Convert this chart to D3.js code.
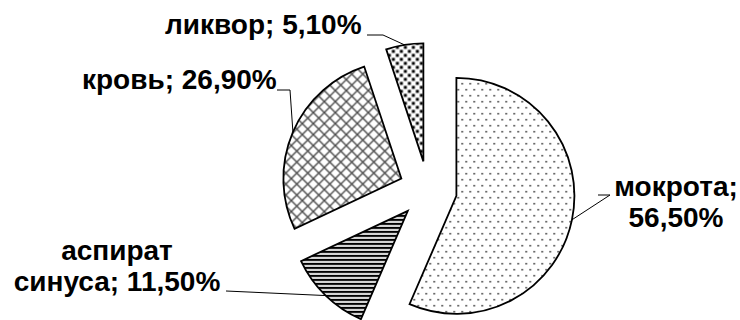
<!DOCTYPE html>
<html>
<head>
<meta charset="utf-8">
<script src="https://cdn.jsdelivr.net/npm/d3@7"></script>
<style>
  html, body { margin: 0; padding: 0; background: #fff; }
  svg text { font-family: "Liberation Sans", Arial, sans-serif; font-weight: bold; fill: #000; }
</style>
</head>
<body>
<svg id="chart" width="740" height="320"></svg>
<script>
// Sample sources, clockwise from 12 o'clock
const categories = ["мокрота", "аспират синуса", "кровь", "ликвор"];
const shares = [56.5, 11.5, 26.9, 5.1];
const shareLabels = ["56,50%", "11,50%", "26,90%", "5,10%"];
// label lines as drawn (text split per line)
const labelLines = [
  ["мокрота;", "56,50%"],
  ["аспират", "синуса; 11,50%"],
  ["кровь; 26,90%"],
  ["ликвор; 5,10%"]
];
const fills = ["url(#pDots)", "url(#pStripes)", "url(#pCross)", "url(#pBigDots)"];

const W = 740, H = 320;
const cx = 428, cy = 190, R = 118, explode = 29;

// label placement: text anchor point, first baseline, and leader elbow
const labelLayout = [
  { x: 676, y: 196, anchor: "middle", elbow: [[598, 195], [610, 195]] },
  { x: 117, y: 260, anchor: "middle", elbow: [[226, 291]] },
  { x: 82,  y: 89,  anchor: "start",  elbow: [[277, 90], [290, 90]] },
  { x: 165, y: 34,  anchor: "start",  elbow: [[367, 35], [383, 35]] }
];

const svg = d3.select("#chart");
const defs = svg.append("defs");

// fine dotted fill
const p1 = defs.append("pattern").attr("id", "pDots").attr("patternUnits", "userSpaceOnUse")
  .attr("width", 8).attr("height", 12);
p1.append("rect").attr("width", 8).attr("height", 12).attr("fill", "#fff");
p1.append("rect").attr("x", 1).attr("y", 1).attr("width", 1.6).attr("height", 1.6).attr("fill", "#333");
p1.append("rect").attr("x", 5).attr("y", 7).attr("width", 1.6).attr("height", 1.6).attr("fill", "#333");

// horizontal stripes
const p2 = defs.append("pattern").attr("id", "pStripes").attr("patternUnits", "userSpaceOnUse")
  .attr("width", 8).attr("height", 4);
p2.append("rect").attr("width", 8).attr("height", 4).attr("fill", "#fff");
p2.append("rect").attr("y", 0).attr("width", 8).attr("height", 2.2).attr("fill", "#000");

// diagonal cross-hatch
const p3 = defs.append("pattern").attr("id", "pCross").attr("patternUnits", "userSpaceOnUse")
  .attr("width", 11).attr("height", 11);
p3.append("rect").attr("width", 11).attr("height", 11).attr("fill", "#fff");
p3.append("path").attr("d", "M-1,-1L12,12M-1,12L12,-1")
  .attr("stroke", "#4a4a4a").attr("stroke-width", 1.4).attr("fill", "none");

// coarse dotted fill
const p4 = defs.append("pattern").attr("id", "pBigDots").attr("patternUnits", "userSpaceOnUse")
  .attr("width", 8).attr("height", 8);
p4.append("rect").attr("width", 8).attr("height", 8).attr("fill", "#fff");
p4.append("rect").attr("x", 0.5).attr("y", 0.5).attr("width", 3).attr("height", 3).attr("fill", "#000");
p4.append("rect").attr("x", 4.5).attr("y", 4.5).attr("width", 3).attr("height", 3).attr("fill", "#000");

const pie = d3.pie().sort(null).value(d => d).startAngle(0).endAngle(2 * Math.PI);
const arc = d3.arc().innerRadius(0).outerRadius(R);
const arcs = pie(shares);

const g = svg.append("g").attr("transform", `translate(${cx},${cy})`);

arcs.forEach((a, i) => {
  const mid = (a.startAngle + a.endAngle) / 2;
  const dx = Math.sin(mid) * explode, dy = -Math.cos(mid) * explode;
  g.append("path")
    .attr("d", arc(a))
    .attr("transform", `translate(${dx},${dy})`)
    .attr("fill", fills[i])
    .attr("stroke", "#000")
    .attr("stroke-width", 1.8)
    .attr("stroke-linejoin", "miter");
});

// leader lines from the label to the middle of each slice's rim
arcs.forEach((a, i) => {
  const mid = (a.startAngle + a.endAngle) / 2;
  const ex = cx + Math.sin(mid) * (explode + R);
  const ey = cy - Math.cos(mid) * (explode + R);
  const L = labelLayout[i];
  const pts = L.elbow.slice();
  pts.push([ex, ey]);
  svg.append("path")
    .attr("d", d3.line()(pts))
    .attr("fill", "none")
    .attr("stroke", "#000")
    .attr("stroke-width", 1);
});

// labels
labelLines.forEach((lines, i) => {
  const L = labelLayout[i];
  const t = svg.append("text")
    .attr("x", L.x).attr("y", L.y)
    .attr("text-anchor", L.anchor)
    .style("font-size", "28px");
  lines.forEach((s, j) => {
    t.append("tspan").attr("x", L.x).attr("dy", j === 0 ? 0 : 31).text(s);
  });
});
</script>
</body>
</html>
